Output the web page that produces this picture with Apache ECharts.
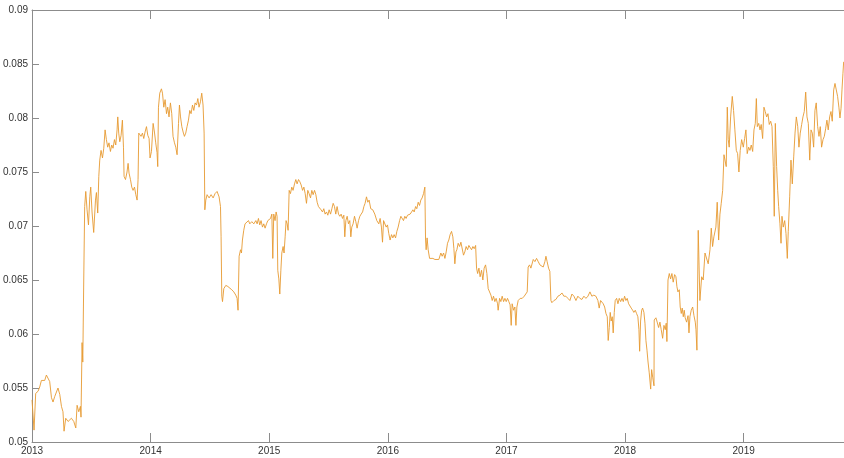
<!DOCTYPE html>
<html>
<head>
<meta charset="utf-8">
<script src="https://cdn.jsdelivr.net/npm/echarts@6/dist/echarts.min.js"></script>
<style>
html,body{margin:0;padding:0;background:#fff;}
#chart{width:844px;height:458px;}
</style>
</head>
<body>
<div id="chart"></div>
<script>
// decimal years
var dates = [
2013.000,2013.017,2013.031,2013.051,2013.065,2013.079,2013.107,2013.121,2013.149,2013.164,2013.177,2013.191,2013.219,2013.234,2013.248,2013.261,2013.270,2013.284,2013.304,2013.332,2013.352,2013.369,2013.380,2013.394,2013.408,2013.413,2013.422,2013.428,2013.436,2013.444,2013.453,2013.464,2013.476,2013.487,2013.495,2013.506,2013.520,2013.535,2013.543,2013.554,2013.563,2013.571,2013.582,2013.594,2013.605,2013.616,2013.627,2013.638,2013.649,2013.661,2013.672,2013.683,2013.695,2013.706,2013.717,2013.723,2013.731,2013.740,2013.751,2013.762,2013.771,2013.776,2013.788,2013.801,2013.810,2013.818,2013.830,2013.841,2013.852,2013.864,2013.875,2013.886,2013.894,2013.900,2013.908,2013.919,2013.931,2013.942,2013.953,2013.965,2013.976,2013.987,2013.995,
2014.007,2014.021,2014.032,2014.043,2014.054,2014.060,2014.066,2014.077,2014.091,2014.100,2014.111,2014.122,2014.134,2014.144,2014.155,2014.167,2014.178,2014.189,2014.201,2014.212,2014.223,2014.235,2014.243,2014.252,2014.263,2014.274,2014.285,2014.296,2014.307,2014.319,2014.330,2014.341,2014.353,2014.364,2014.375,2014.387,2014.398,2014.408,2014.420,2014.431,2014.442,2014.451,2014.457,2014.465,2014.476,2014.493,2014.510,2014.527,2014.543,2014.560,2014.577,2014.589,2014.594,2014.600,2014.606,2014.617,2014.634,2014.651,2014.667,2014.684,2014.701,2014.718,2014.729,2014.737,2014.746,2014.758,2014.766,2014.774,2014.785,2014.796,2014.808,2014.825,2014.836,2014.853,2014.870,2014.887,2014.898,2014.909,2014.920,2014.931,2014.943,2014.954,2014.965,2014.977,2014.988,2014.999,
2015.011,2015.022,2015.030,2015.038,2015.049,2015.058,2015.066,2015.072,2015.081,2015.089,2015.098,2015.106,2015.117,2015.125,2015.134,2015.142,2015.151,2015.159,2015.168,2015.179,2015.190,2015.201,2015.213,2015.224,2015.235,2015.247,2015.258,2015.269,2015.281,2015.292,2015.303,2015.314,2015.325,2015.336,2015.348,2015.359,2015.370,2015.382,2015.393,2015.404,2015.415,2015.426,2015.437,2015.449,2015.460,2015.471,2015.483,2015.494,2015.505,2015.517,2015.528,2015.539,2015.550,2015.561,2015.572,2015.584,2015.595,2015.606,2015.618,2015.629,2015.637,2015.646,2015.657,2015.668,2015.679,2015.688,2015.696,2015.707,2015.719,2015.730,2015.741,2015.753,2015.764,2015.775,2015.787,2015.798,2015.808,2015.820,2015.831,2015.842,2015.856,2015.873,2015.890,2015.907,2015.924,2015.935,2015.946,2015.955,2015.964,2015.975,2015.986,2015.997,
2016.008,2016.019,2016.031,2016.042,2016.053,2016.065,2016.076,2016.087,2016.099,2016.110,2016.121,2016.132,2016.143,2016.154,2016.166,2016.177,2016.188,2016.200,2016.211,2016.222,2016.234,2016.244,2016.256,2016.267,2016.278,2016.289,2016.301,2016.312,2016.318,2016.323,2016.331,2016.340,2016.352,2016.363,2016.380,2016.397,2016.413,2016.430,2016.447,2016.458,2016.470,2016.481,2016.492,2016.503,2016.514,2016.525,2016.537,2016.548,2016.557,2016.565,2016.574,2016.582,2016.593,2016.605,2016.616,2016.627,2016.638,2016.649,2016.660,2016.672,2016.683,2016.694,2016.706,2016.717,2016.728,2016.740,2016.748,2016.757,2016.768,2016.778,2016.790,2016.801,2016.812,2016.824,2016.835,2016.846,2016.857,2016.869,2016.880,2016.891,2016.902,2016.913,2016.925,2016.930,2016.942,2016.953,2016.964,2016.976,2016.987,2016.998,
2017.009,2017.020,2017.031,2017.040,2017.048,2017.060,2017.071,2017.080,2017.088,2017.099,2017.116,2017.133,2017.150,2017.166,2017.175,2017.183,2017.195,2017.206,2017.226,2017.240,2017.254,2017.268,2017.282,2017.296,2017.310,2017.324,2017.333,2017.343,2017.355,2017.366,2017.375,2017.383,2017.400,2017.417,2017.434,2017.451,2017.468,2017.484,2017.501,2017.518,2017.535,2017.552,2017.569,2017.586,2017.602,2017.619,2017.636,2017.653,2017.670,2017.687,2017.704,2017.720,2017.737,2017.754,2017.771,2017.782,2017.794,2017.805,2017.816,2017.828,2017.839,2017.850,2017.858,2017.867,2017.875,2017.883,2017.892,2017.900,2017.909,2017.917,2017.929,2017.940,2017.951,2017.963,2017.974,2017.985,2017.996,
2018.007,2018.018,2018.030,2018.041,2018.052,2018.064,2018.074,2018.086,2018.097,2018.108,2018.117,2018.123,2018.131,2018.140,2018.148,2018.159,2018.168,2018.176,2018.185,2018.193,2018.204,2018.216,2018.224,2018.233,2018.244,2018.246,2018.260,2018.271,2018.283,2018.294,2018.305,2018.317,2018.328,2018.339,2018.347,2018.353,2018.362,2018.373,2018.384,2018.395,2018.406,2018.418,2018.429,2018.437,2018.446,2018.457,2018.465,2018.474,2018.482,2018.491,2018.499,2018.507,2018.519,2018.531,2018.539,2018.547,2018.558,2018.570,2018.581,2018.592,2018.598,2018.606,2018.617,2018.631,2018.646,2018.659,2018.674,2018.688,2018.701,2018.716,2018.727,2018.738,2018.749,2018.766,2018.777,2018.789,2018.800,2018.811,2018.823,2018.834,2018.845,2018.853,2018.862,2018.870,2018.878,2018.890,2018.904,2018.915,2018.926,2018.938,2018.949,2018.960,2018.971,2018.983,2018.997,
2019.008,2019.019,2019.030,2019.042,2019.053,2019.064,2019.076,2019.087,2019.098,2019.107,2019.115,2019.127,2019.138,2019.148,2019.160,2019.171,2019.182,2019.194,2019.205,2019.216,2019.228,2019.239,2019.250,2019.258,2019.267,2019.278,2019.287,2019.295,2019.306,2019.315,2019.323,2019.334,2019.346,2019.357,2019.368,2019.376,2019.388,2019.399,2019.410,2019.422,2019.433,2019.444,2019.456,2019.466,2019.477,2019.489,2019.500,2019.511,2019.523,2019.534,2019.545,2019.557,2019.568,2019.579,2019.590,2019.601,2019.612,2019.624,2019.635,2019.646,2019.657,2019.669,2019.680,2019.691,2019.702,2019.713,2019.725,2019.736,2019.747,2019.759,2019.770,2019.781,2019.792,2019.803,2019.812,2019.821,2019.829,2019.837,2019.843
];
var values = [
0.0539,0.0511,0.0545,0.0547,0.0551,0.0557,0.0557,0.0562,0.0556,0.0541,0.0537,0.0542,0.0550,0.0544,0.0533,0.0528,0.0510,0.0522,0.0519,0.0522,0.0519,0.0513,0.0534,0.0528,0.0533,0.0523,0.0592,0.0574,0.0650,0.0718,0.0732,0.0715,0.0701,0.0727,0.0736,0.0713,0.0694,0.0724,0.0731,0.0712,0.0746,0.0761,0.0770,0.0763,0.0772,0.0789,0.0780,0.0773,0.0777,0.0769,0.0775,0.0772,0.0780,0.0775,0.0789,0.0801,0.0786,0.0778,0.0784,0.0798,0.0773,0.0746,0.0743,0.0750,0.0758,0.0749,0.0743,0.0736,0.0733,0.0736,0.0729,0.0724,0.0743,0.0786,0.0787,0.0783,0.0786,0.0781,0.0787,0.0792,0.0784,0.0781,0.0763,
0.0769,0.0795,0.0787,0.0777,0.0768,0.0755,0.0810,0.0823,0.0827,0.0823,0.0810,0.0817,0.0804,0.0810,0.0801,0.0814,0.0804,0.0783,0.0777,0.0773,0.0766,0.0795,0.0812,0.0801,0.0792,0.0787,0.0783,0.0786,0.0792,0.0798,0.0807,0.0804,0.0812,0.0807,0.0814,0.0812,0.0818,0.0810,0.0815,0.0823,0.0812,0.0786,0.0715,0.0724,0.0729,0.0726,0.0729,0.0726,0.0730,0.0732,0.0727,0.0718,0.0690,0.0635,0.0630,0.0642,0.0645,0.0644,0.0645,0.0641,0.0639,0.0636,0.0633,0.0622,0.0672,0.0678,0.0675,0.0687,0.0696,0.0702,0.0701,0.0705,0.0702,0.0704,0.0702,0.0705,0.0702,0.0707,0.0701,0.0705,0.0699,0.0702,0.0698,0.0702,0.0705,0.0704,
0.0707,0.0711,0.0670,0.0711,0.0705,0.0713,0.0709,0.0659,0.0651,0.0637,0.0659,0.0675,0.0681,0.0675,0.0690,0.0705,0.0702,0.0696,0.0733,0.0730,0.0736,0.0733,0.0739,0.0743,0.0739,0.0743,0.0741,0.0738,0.0733,0.0736,0.0730,0.0721,0.0733,0.0730,0.0726,0.0733,0.0729,0.0733,0.0729,0.0722,0.0718,0.0719,0.0715,0.0713,0.0716,0.0711,0.0713,0.0710,0.0715,0.0711,0.0716,0.0721,0.0718,0.0711,0.0718,0.0711,0.0709,0.0711,0.0707,0.0710,0.0690,0.0705,0.0709,0.0702,0.0705,0.0690,0.0699,0.0702,0.0709,0.0704,0.0698,0.0705,0.0709,0.0711,0.0713,0.0718,0.0721,0.0727,0.0722,0.0724,0.0716,0.0715,0.0711,0.0705,0.0702,0.0707,0.0699,0.0685,0.0705,0.0704,0.0699,0.0701,
0.0693,0.0687,0.0692,0.0689,0.0692,0.0689,0.0695,0.0699,0.0705,0.0709,0.0710,0.0705,0.0709,0.0707,0.0710,0.0709,0.0711,0.0713,0.0715,0.0713,0.0718,0.0716,0.0722,0.0719,0.0724,0.0726,0.0730,0.0736,0.0687,0.0678,0.0689,0.0678,0.0670,0.0669,0.0670,0.0669,0.0669,0.0669,0.0675,0.0672,0.0675,0.0670,0.0676,0.0684,0.0687,0.0692,0.0695,0.0690,0.0679,0.0665,0.0676,0.0678,0.0684,0.0681,0.0685,0.0684,0.0673,0.0676,0.0681,0.0678,0.0682,0.0681,0.0678,0.0681,0.0679,0.0682,0.0661,0.0656,0.0661,0.0653,0.0659,0.0650,0.0661,0.0664,0.0656,0.0642,0.0641,0.0636,0.0631,0.0635,0.0630,0.0633,0.0628,0.0622,0.0633,0.0630,0.0635,0.0630,0.0633,0.0630,
0.0633,0.0630,0.0627,0.0608,0.0628,0.0622,0.0625,0.0608,0.0625,0.0631,0.0633,0.0633,0.0635,0.0636,0.0639,0.0662,0.0664,0.0661,0.0669,0.0667,0.0670,0.0667,0.0664,0.0665,0.0662,0.0667,0.0672,0.0667,0.0661,0.0658,0.0631,0.0629,0.0631,0.0632,0.0635,0.0636,0.0638,0.0635,0.0635,0.0633,0.0631,0.0637,0.0635,0.0631,0.0635,0.0633,0.0632,0.0635,0.0633,0.0635,0.0639,0.0635,0.0636,0.0635,0.0631,0.0624,0.0631,0.0630,0.0628,0.0625,0.0619,0.0616,0.0594,0.0606,0.0620,0.0612,0.0616,0.0601,0.0620,0.0631,0.0633,0.0628,0.0633,0.0630,0.0633,0.0630,0.0635,
0.0631,0.0633,0.0628,0.0627,0.0624,0.0622,0.0620,0.0622,0.0619,0.0616,0.0604,0.0584,0.0612,0.0622,0.0624,0.0620,0.0610,0.0594,0.0585,0.0575,0.0564,0.0549,0.0567,0.0560,0.0552,0.0613,0.0615,0.0611,0.0606,0.0611,0.0604,0.0596,0.0608,0.0604,0.0610,0.0593,0.0650,0.0656,0.0651,0.0656,0.0648,0.0655,0.0653,0.0644,0.0639,0.0641,0.0625,0.0619,0.0624,0.0616,0.0622,0.0615,0.0611,0.0617,0.0601,0.0616,0.0622,0.0625,0.0617,0.0611,0.0604,0.0585,0.0696,0.0631,0.0653,0.0650,0.0675,0.0676,0.0665,0.0678,0.0698,0.0681,0.0690,0.0699,0.0722,0.0687,0.0711,0.0721,0.0733,0.0766,0.0767,0.0755,0.0810,0.0780,0.0773,0.0801,0.0820,0.0807,0.0789,0.0770,0.0767,0.0750,0.0770,0.0780,0.0773,
0.0781,0.0789,0.0767,0.0773,0.0770,0.0775,0.0769,0.0789,0.0795,0.0818,0.0792,0.0795,0.0789,0.0794,0.0781,0.0810,0.0806,0.0801,0.0804,0.0794,0.0797,0.0792,0.0755,0.0709,0.0795,0.0755,0.0733,0.0718,0.0702,0.0684,0.0709,0.0699,0.0705,0.0693,0.0670,0.0695,0.0727,0.0761,0.0739,0.0764,0.0786,0.0801,0.0792,0.0773,0.0786,0.0794,0.0801,0.0806,0.0824,0.0801,0.0795,0.0761,0.0789,0.0786,0.0773,0.0807,0.0814,0.0792,0.0783,0.0792,0.0773,0.0780,0.0783,0.0790,0.0798,0.0789,0.0801,0.0806,0.0797,0.0826,0.0832,0.0826,0.0820,0.0810,0.0800,0.0809,0.0826,0.0841,0.0852
];
var xTickLabels = ['2013','2014','2015','2016','2017','2018','2019'];
var yTickValues = [0.05,0.055,0.06,0.065,0.07,0.075,0.08,0.085,0.09];

var seriesData = [];
var n = Math.min(dates.length, values.length);
for (var i = 0; i < n; i++) seriesData.push([dates[i], values[i]]);

var chart = echarts.init(document.getElementById('chart'), null, {renderer: 'canvas'});
var axisGray = '#8c8c8c';
var textColor = '#333333';
var fontFamily = 'Liberation Sans, Arial, Helvetica, sans-serif';
chart.setOption({
  animation: false,
  backgroundColor: '#ffffff',
  grid: {left: 32, top: 10, right: 0, bottom: 16, containLabel: false},
  xAxis: [{
    type: 'value',
    min: 2013,
    max: 2019.846,
    interval: 1,
    position: 'bottom',
    axisLine: {show: true, lineStyle: {color: axisGray, width: 1}},
    axisTick: {show: true, inside: true, length: 9, lineStyle: {color: axisGray}},
    axisLabel: {
      color: textColor, fontSize: 10, fontFamily: fontFamily, margin: 4,
      showMaxLabel: false,
      formatter: function (v) {
        var idx = Math.round(v - 2013);
        return (Math.abs(v - Math.round(v)) < 1e-6 && xTickLabels[idx]) ? xTickLabels[idx] : '';
      }
    },
    splitLine: {show: false}
  }, {
    type: 'value',
    min: 2013,
    max: 2019.846,
    interval: 1,
    position: 'top',
    axisLine: {show: true, lineStyle: {color: axisGray, width: 1}},
    axisTick: {show: true, inside: true, length: 9, lineStyle: {color: axisGray}},
    axisLabel: {show: false},
    splitLine: {show: false}
  }],
  yAxis: [{
    type: 'value',
    min: 0.05,
    max: 0.09,
    interval: 0.005,
    axisLine: {show: true, lineStyle: {color: axisGray, width: 1}},
    axisTick: {show: true, inside: true, length: 7, lineStyle: {color: axisGray}},
    axisLabel: {
      color: textColor, fontSize: 10, fontFamily: fontFamily, margin: 4,
      formatter: function (v) {
        for (var k = 0; k < yTickValues.length; k++) {
          if (Math.abs(v - yTickValues[k]) < 1e-9) return String(yTickValues[k]);
        }
        return '';
      }
    },
    splitLine: {show: false}
  }],
  series: [{
    type: 'line',
    data: seriesData,
    showSymbol: false,
    symbol: 'none',
    smooth: false,
    lineStyle: {color: '#E79A31', width: 0.9},
    itemStyle: {color: '#E79A31'}
  }]
});
</script>
</body>
</html>
